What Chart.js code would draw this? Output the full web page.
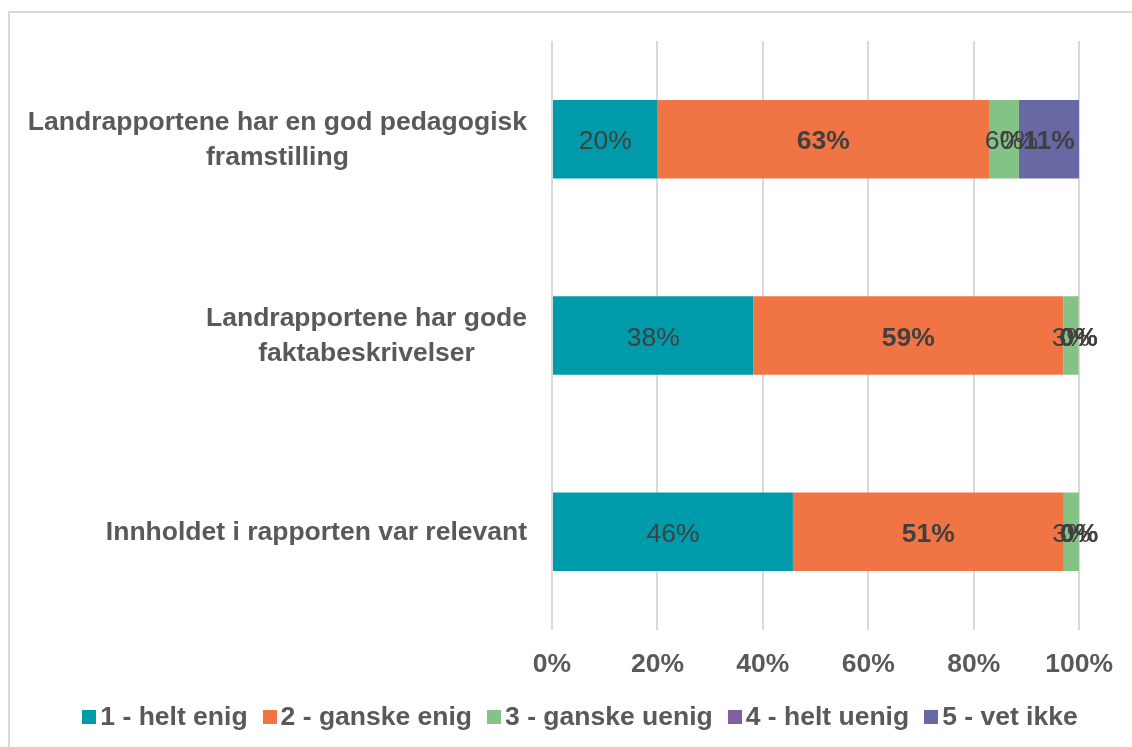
<!DOCTYPE html>
<html>
<head>
<meta charset="utf-8">
<script src="https://cdn.jsdelivr.net/npm/chart.js@4.4.1/dist/chart.umd.min.js"></script>
<style>
  body { margin: 0; background: #fff; font-family: "Liberation Sans", Arial, sans-serif; }
  #frame { position: absolute; left: 8px; top: 11px; width: 1200px; height: 800px; border: 2px solid #d9d9d9; box-sizing: border-box; }
  #chart { position: absolute; left: 0; top: 0; }
  #legend { position: absolute; left: 0; top: 701px; width: 1160px; display: flex; justify-content: center; align-items: center; }
  .item { display: flex; align-items: center; font-weight: bold; font-size: 26.5px; color: #595959; margin: 0 7.5px; white-space: nowrap; }
  .box { width: 14px; height: 14px; margin-right: 4px; }
</style>
</head>
<body>
<div id="frame"></div>
<canvas id="chart" width="1132" height="747"></canvas>
<div id="legend"></div>
<script>
// Kategorier (linjer) og serier
const categories = [
    ['Landrapportene har en god pedagogisk', 'framstilling'],
    ['Landrapportene har gode', 'faktabeskrivelser'],
    ['Innholdet i rapporten var relevant']
];
const seriesNames = ['1 - helt enig', '2 - ganske enig', '3 - ganske uenig', '4 - helt uenig', '5 - vet ikke'];
const seriesColors = ['#009BAA', '#F07444', '#85C285', '#8161A3', '#6768A4'];
const helt_enig = [20.0, 38.2, 45.7];
const ganske_enig = [62.9, 58.8, 51.4];
const ganske_uenig = [5.7, 2.9, 2.9];
const helt_uenig = [0, 0, 0];
const vet_ikke = [11.4, 0, 0];
const xTicks = [0, 20, 40, 60, 80, 100];

const allSeries = [helt_enig, ganske_enig, ganske_uenig, helt_uenig, vet_ikke];
const boldLabels = [false, true, false, false, true];
const FONT = '"Liberation Sans", Arial, sans-serif';

// Dataetiketter midt i hvert segment
const barLabels = {
    id: 'barLabels',
    afterDatasetsDraw(chart) {
        const ctx = chart.ctx;
        ctx.save();
        ctx.textAlign = 'center';
        ctx.textBaseline = 'middle';
        ctx.fillStyle = '#404040';
        chart.data.datasets.forEach(function(ds, i) {
            const meta = chart.getDatasetMeta(i);
            ctx.font = (boldLabels[i] ? 'bold ' : '') + '26.5px ' + FONT;
            meta.data.forEach(function(bar, j) {
                const x = (bar.x + bar.base) / 2;
                ctx.fillText(Math.round(ds.data[j]) + '%', x, bar.y + 3);
            });
        });
        ctx.restore();
    }
};

// Kategorietiketter, sentrert linje for linje
const catLabels = {
    id: 'catLabels',
    afterDraw(chart) {
        const ctx = chart.ctx;
        const yScale = chart.scales.y;
        ctx.save();
        ctx.font = 'bold 26.5px ' + FONT;
        ctx.fillStyle = '#595959';
        ctx.textAlign = 'center';
        ctx.textBaseline = 'middle';
        const right = chart.chartArea.left - 25;
        const lineH = 35;
        categories.forEach(function(lines, i) {
            const w = Math.max.apply(null, lines.map(function(l) { return ctx.measureText(l).width; }));
            const cx = right - w / 2;
            const cy = yScale.getPixelForTick(i) + 1;
            lines.forEach(function(l, k) {
                ctx.fillText(l, cx, cy + (k - (lines.length - 1) / 2) * lineH);
            });
        });
        ctx.restore();
    }
};

const ctx = document.getElementById('chart');
new Chart(ctx, {
    type: 'bar',
    data: {
        labels: categories,
        datasets: allSeries.map(function(d, i) {
            return {
                label: seriesNames[i],
                data: d,
                backgroundColor: seriesColors[i],
                borderWidth: 0,
                barPercentage: 1,
                categoryPercentage: 0.4
            };
        })
    },
    options: {
        indexAxis: 'y',
        responsive: false,
        animation: false,
        layout: { padding: { top: 41, right: 52, bottom: 67, left: 0 } },
        plugins: {
            legend: { display: false },
            tooltip: { enabled: false }
        },
        scales: {
            x: {
                stacked: true,
                min: 0,
                max: 100,
                afterBuildTicks: function(scale) {
                    scale.ticks = xTicks.map(function(v) { return { value: v }; });
                },
                afterFit: function(scale) { scale.height = 50; },
                grid: { color: '#d9d9d9', lineWidth: 2, drawTicks: false },
                border: { display: false },
                ticks: {
                    padding: 19,
                    color: '#595959',
                    font: { family: FONT, size: 26.5, weight: 'bold' },
                    callback: function(v) { return v + '%'; }
                }
            },
            y: {
                stacked: true,
                afterFit: function(scale) { scale.width = 552; },
                grid: { display: false },
                border: { display: false },
                ticks: { display: false }
            }
        }
    },
    plugins: [barLabels, catLabels]
});

// Forklaring
const legend = document.getElementById('legend');
seriesNames.forEach(function(name, i) {
    const item = document.createElement('div');
    item.className = 'item';
    const box = document.createElement('span');
    box.className = 'box';
    box.style.background = seriesColors[i];
    item.appendChild(box);
    item.appendChild(document.createTextNode(name));
    legend.appendChild(item);
});
</script>
</body>
</html>
